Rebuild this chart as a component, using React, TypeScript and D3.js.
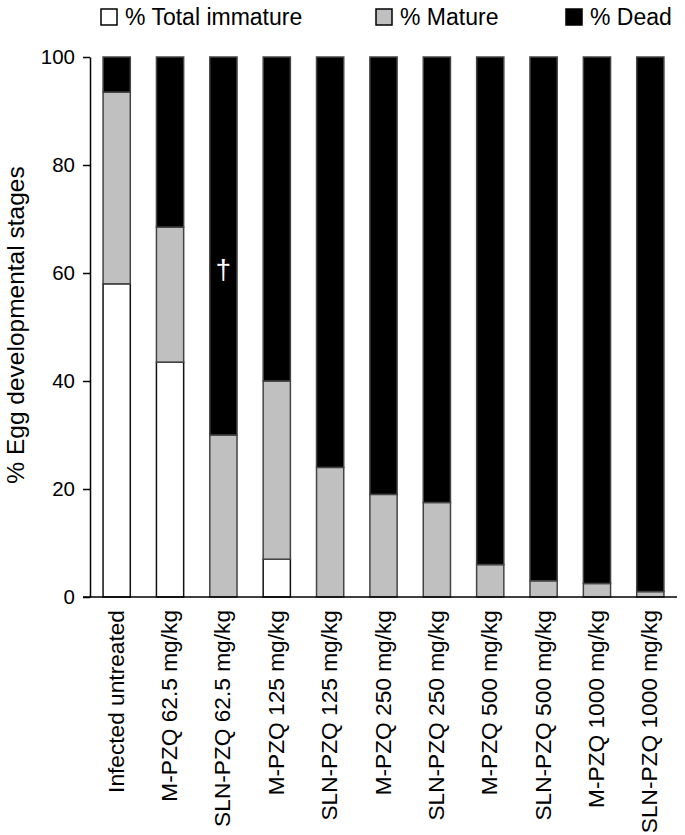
import React, {useRef, useEffect} from 'react';
import * as d3 from 'd3';

const W = 685;
const H = 835;

const groups = [
  'Infected untreated',
  'M-PZQ 62.5 mg/kg',
  'SLN-PZQ 62.5 mg/kg',
  'M-PZQ 125 mg/kg',
  'SLN-PZQ 125 mg/kg',
  'M-PZQ 250 mg/kg',
  'SLN-PZQ 250 mg/kg',
  'M-PZQ 500 mg/kg',
  'SLN-PZQ 500 mg/kg',
  'M-PZQ 1000 mg/kg',
  'SLN-PZQ 1000 mg/kg',
];
const immature = [58, 43.5, 0, 7, 0, 0, 0, 0, 0, 0, 0];
const mature = [35.5, 25, 30, 33, 24, 19, 17.5, 6, 3, 2.5, 1];
const dead = [6.5, 31.5, 70, 60, 76, 81, 82.5, 94, 97, 97.5, 99];

const seriesKeys = ['immature', 'mature', 'dead'];
const seriesNames = ['% Total immature', '% Mature', '% Dead'];
const fills = ['#ffffff', '#c0c0c0', '#000000'];
const yTicks = [0, 20, 40, 60, 80, 100];

const font = 'Liberation Sans, Arial, sans-serif';

const draw = (el: SVGSVGElement) => {
  const svg = d3.select(el);
  svg.selectAll('*').remove();

  const left = 90;
  const right = 677;
  const top = 57;
  const bottom = 597;

  const x = d3.scaleBand().domain(groups).range([left, right]).paddingInner(0.49).paddingOuter(0.245);
  const y = d3.scaleLinear().domain([0, 100]).range([bottom, top]);

  const table = groups.map((g, i) => ({g, immature: immature[i], mature: mature[i], dead: dead[i]}));
  const stacked = d3.stack<any>().keys(seriesKeys)(table);

  svg
    .append('g')
    .selectAll('g')
    .data(stacked)
    .enter()
    .append('g')
    .attr('fill', (d, i) => fills[i])
    .attr('stroke', (d, i) => (i === 0 ? '#111' : '#444'))
    .attr('stroke-width', 1.5)
    .selectAll('rect')
    .data(d => d.filter(p => p[1] - p[0] > 0))
    .enter()
    .append('rect')
    .attr('x', p => x(p.data.g)!)
    .attr('width', x.bandwidth())
    .attr('y', p => y(p[1]))
    .attr('height', p => y(p[0]) - y(p[1]));

  // dagger
  svg
    .append('text')
    .attr('x', x(groups[2])! + x.bandwidth() / 2)
    .attr('y', y(60) + 6)
    .attr('text-anchor', 'middle')
    .attr('fill', '#fff')
    .attr('font-family', font)
    .attr('font-size', 28)
    .text('†');

  // y axis
  const yAxis = svg
    .append('g')
    .attr('transform', `translate(${left},0)`)
    .call(d3.axisLeft(y).tickValues(yTicks).tickSize(7).tickSizeOuter(0).tickPadding(8));
  yAxis.select('.domain').attr('stroke', '#000').attr('stroke-width', 1.5);
  yAxis.selectAll('line').attr('stroke', '#000').attr('stroke-width', 1.5);
  yAxis.selectAll('text').attr('font-family', font).attr('font-size', 20.5).attr('fill', '#000');

  // x axis
  svg
    .append('line')
    .attr('x1', left - 7)
    .attr('x2', right)
    .attr('y1', bottom)
    .attr('y2', bottom)
    .attr('stroke', '#000')
    .attr('stroke-width', 1.5);

  svg
    .append('g')
    .selectAll('text')
    .data(groups)
    .enter()
    .append('text')
    .attr('transform', g => `translate(${x(g)! + x.bandwidth() / 2 + 7},${bottom + 13}) rotate(-90)`)
    .attr('text-anchor', 'end')
    .attr('font-family', font)
    .attr('font-size', 22.7)
    .attr('fill', '#000')
    .text(g => g);

  // y label
  svg
    .append('text')
    .attr('transform', `translate(24,${(top + bottom) / 2 - 2}) rotate(-90)`)
    .attr('text-anchor', 'middle')
    .attr('font-family', font)
    .attr('font-size', 24.5)
    .attr('fill', '#000')
    .text('% Egg developmental stages');

  // legend
  const legendX = [101, 376, 566];
  const lg = svg
    .append('g')
    .selectAll('g')
    .data(seriesNames)
    .enter()
    .append('g')
    .attr('transform', (d, i) => `translate(${legendX[i]},9)`);
  lg.append('rect')
    .attr('width', 16)
    .attr('height', 16)
    .attr('fill', (d, i) => fills[i])
    .attr('stroke', '#000')
    .attr('stroke-width', 1.5);
  lg.append('text')
    .attr('x', 24)
    .attr('y', 15.5)
    .attr('font-family', font)
    .attr('font-size', 23)
    .attr('fill', '#000')
    .text(d => d);
};

export default function App() {
  const ref = useRef<SVGSVGElement>(null);
  useEffect(() => {
    if (ref.current) draw(ref.current);
  }, []);
  return <svg ref={ref} width={W} height={H} style={{position: 'absolute', left: 0, top: 0}} />;
}
